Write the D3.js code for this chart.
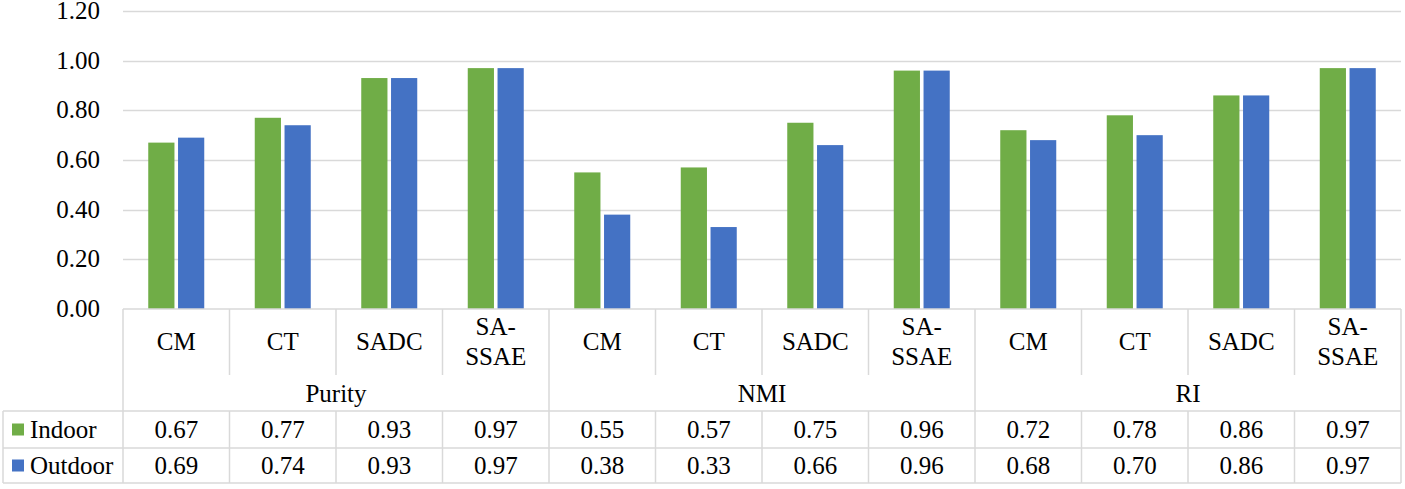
<!DOCTYPE html>
<html><head><meta charset="utf-8">
<script src="https://cdn.jsdelivr.net/npm/d3@7"></script>
</head><body><svg id="c" width="1405" height="489"></svg>
<script>
const groups = ["Purity", "NMI", "RI"];
const methods = ["CM", "CT", "SADC", "SA-SSAE"];
const seriesNames = ["Indoor", "Outdoor"];
const indoor = [0.67, 0.77, 0.93, 0.97, 0.55, 0.57, 0.75, 0.96, 0.72, 0.78, 0.86, 0.97];
const outdoor = [0.69, 0.74, 0.93, 0.97, 0.38, 0.33, 0.66, 0.96, 0.68, 0.70, 0.86, 0.97];
const yTicks = [0, 0.2, 0.4, 0.6, 0.8, 1.0, 1.2];

d3.select("body").style("margin", "0px");
const svg = d3.select("#c").style("display", "block");

const colors = ["#70AD47", "#4472C4"];
const grid = "#D9D9D9";
const L = 123, R = 1401, T = 11, B = 309;
const catBottom = 375, grpBottom = 411, row1Bottom = 448, row2Bottom = 483, legLeft = 3;
const FS = 25;

const cats = [];
groups.forEach((g, gi) => methods.forEach((m, mi) => cats.push({g, m, i: gi * methods.length + mi})));
const series = [indoor, outdoor];

const x = d3.scaleBand().domain(cats.map(c => c.i)).range([L, R]).paddingInner(0).paddingOuter(0);
const y = d3.scaleLinear().domain([0, 1.2]).range([B, T]);
const xs = d3.scaleBand().domain([0, 1]).range([x.bandwidth() / 2 - 28, x.bandwidth() / 2 + 28]).paddingInner(0.12);

// gridlines
svg.append("g").selectAll("line").data(yTicks.slice(1)).join("line")
  .attr("x1", L).attr("x2", R).attr("y1", d => Math.round(y(d)) + 0.5).attr("y2", d => Math.round(y(d)) + 0.5)
  .attr("stroke", grid).attr("stroke-width", 1.3);

function txt(sel) {
  return sel.attr("font-family", "Times New Roman, Liberation Serif, serif")
    .style("font-family", "'Times New Roman', 'Liberation Serif', serif")
    .attr("font-size", FS).attr("fill", "#000");
}

// y tick labels
svg.append("g").selectAll("text").data(yTicks).join("text")
  .attr("x", 100).attr("y", d => y(d) + 8).attr("text-anchor", "end")
  .call(txt).text(d => d.toFixed(2));

// bars
const bars = svg.append("g");
series.forEach((s, si) => {
  bars.selectAll(null).data(cats).join("rect")
    .attr("x", c => x(c.i) + xs(si)).attr("width", xs.bandwidth())
    .attr("y", c => y(s[c.i])).attr("height", c => y(0) - y(s[c.i]))
    .attr("fill", colors[si]);
});

// table lines
const tl = svg.append("g").attr("stroke", grid).attr("stroke-width", 1.5).attr("fill", "none");
const hline = (x1, x2, yy) => tl.append("line").attr("x1", x1).attr("x2", x2).attr("y1", yy).attr("y2", yy);
const vline = (xx, y1, y2) => tl.append("line").attr("x1", xx).attr("x2", xx).attr("y1", y1).attr("y2", y2);
hline(L, R, B);
hline(legLeft, R, grpBottom);
hline(legLeft, R, row1Bottom);
hline(legLeft, R, row2Bottom);
vline(legLeft, grpBottom, row2Bottom);
vline(L, B, row2Bottom);
vline(R, B, row2Bottom);
cats.forEach(c => {
  if (c.i === 0) return;
  const xx = x(c.i);
  if (c.i % methods.length === 0) vline(xx, B, row2Bottom);
  else { vline(xx, B, catBottom); vline(xx, grpBottom, row2Bottom); }
});

// category labels
const cx = c => x(c.i) + x.bandwidth() / 2;
cats.forEach(c => {
  const parts = c.m.includes("-") ? [c.m.split("-")[0] + "-", c.m.split("-")[1]] : [c.m];
  const ys = parts.length === 1 ? [350] : [335, 365];
  parts.forEach((p, pi) => {
    svg.append("text").attr("x", cx(c)).attr("y", ys[pi]).attr("text-anchor", "middle").call(txt).text(p);
  });
});

// group labels
const gw = x.bandwidth() * methods.length;
groups.forEach((d, i) => {
  svg.append("text").attr("x", L + gw * i + gw / 2).attr("y", 402).attr("text-anchor", "middle").call(txt).text(d);
});

// data table
const rowMid = [(grpBottom + row1Bottom) / 2, (row1Bottom + row2Bottom) / 2];
series.forEach((s, si) => {
  svg.append("rect").attr("x", 12).attr("y", rowMid[si] - 6).attr("width", 12).attr("height", 12).attr("fill", colors[si]);
  svg.append("text").attr("x", 30).attr("y", rowMid[si] + 8).call(txt).text(seriesNames[si]);
  cats.forEach(c => {
    svg.append("text").attr("text-anchor", "middle").attr("x", cx(c)).attr("y", rowMid[si] + 8).call(txt).text(s[c.i].toFixed(2));
  });
});
</script></body></html>
